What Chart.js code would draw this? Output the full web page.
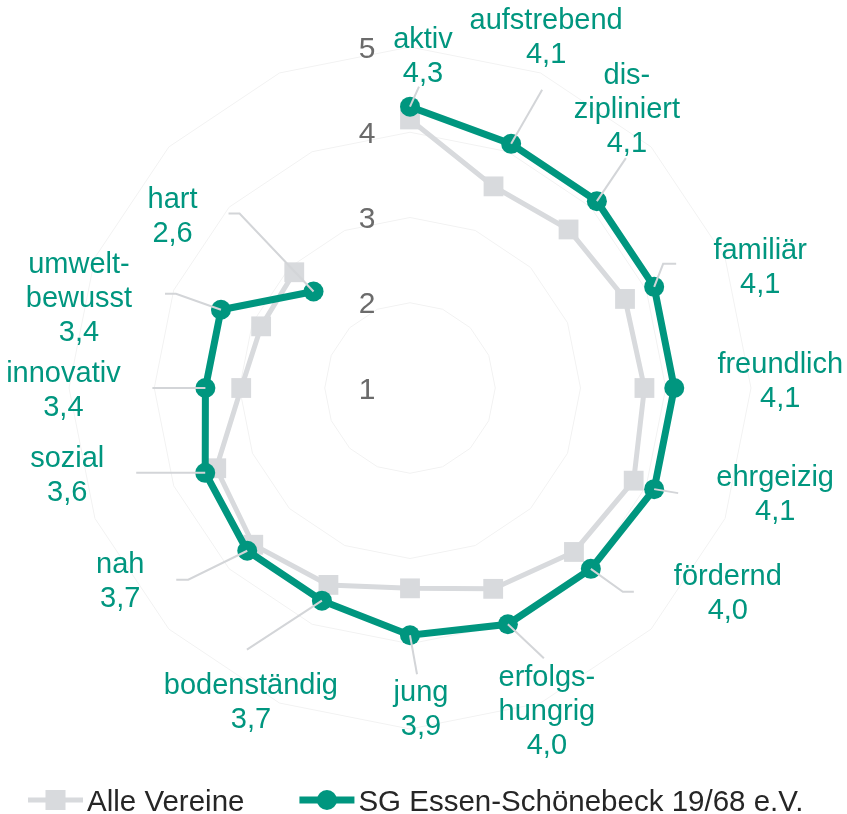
<!DOCTYPE html>
<html lang="de">
<head>
<meta charset="utf-8">
<title>Vereinsprofil</title>
<script src="https://cdn.jsdelivr.net/npm/chart.js@4.4.1/dist/chart.umd.min.js"></script>
<style>
  html, body { margin: 0; padding: 0; background: #fff; }
  #wrap { position: relative; width: 847px; height: 814px; }
</style>
</head>
<body>
<div id="wrap"><canvas id="profilChart" width="847" height="814"></canvas></div>
<script>
// Achsen des Profils (die letzte Achse bleibt leer, daher die Lücke oben links)
const kategorien = ['aktiv', 'aufstrebend', ['dis-', 'zipliniert'], 'familiär', 'freundlich', 'ehrgeizig',
  'fördernd', ['erfolgs-', 'hungrig'], 'jung', 'bodenständig', 'nah', 'sozial', 'innovativ',
  ['umwelt-', 'bewusst'], 'hart', ''];
const alleVereine = [4.15, 3.56, 3.63, 3.73, 3.75, 3.84, 3.72, 3.55, 3.35, 3.5, 3.6, 3.46, 2.98, 2.89, 2.92, null];
const sgEssen = [4.3, 4.1, 4.1, 4.1, 4.1, 4.1, 4.0, 4.0, 3.9, 3.7, 3.7, 3.6, 3.4, 3.4, 2.6, null];
const skalaWerte = [1, 2, 3, 4, 5];
const serienNamen = ['Alle Vereine', 'SG Essen-Schönebeck 19/68 e.V.'];

const FONT = "'Liberation Sans', Arial, sans-serif";
const GRUEN = '#00967f';
const GRAU = '#d8dadd';

// Lage der Wertbeschriftung (Mitte der letzten Zeile, Grundlinie) relativ zum Punkt
const labelVersatz = [[13, -25], [35, -81], [30, -49], [106, 6], [106, 19], [121, 31], [137, 50], [39, 130],
  [11, 100], [-71, 127], [-127, 56], [-138, 28], [-142, 28], [-142, 31], [-141, -50]];
// Führungslinien: Knickpunkt relativ zum Punkt, danach waagrechter Stummel
const fuehrung = [[9, -20, 0], [31, -54, 0], [29, -43, 0], [9, -23, 13], null, [24, 4, 0], [32, 23, 11],
  [36, 34, 0], [7, 39, 0], [-75, 49, 0], [-59, 29, -12], [-69, 0, 0], [-53, 0, 0], [-45, -16, -11], [-74, -78, -11]];

const profilDeko = {
  id: 'profilDeko',
  beforeDatasetsDraw(chart) {
    // Skalenbeschriftung links neben der senkrechten Achse
    const { ctx } = chart;
    const r = chart.scales.r;
    const size = 30;
    ctx.save();
    ctx.font = size + 'px ' + FONT;
    ctx.fillStyle = '#6b6b6b';
    ctx.textAlign = 'center';
    ctx.textBaseline = 'alphabetic';
    skalaWerte.forEach(v => {
      const y = r.yCenter - r.getDistanceFromCenterForValue(v);
      ctx.fillText(String(v), r.xCenter - 43, y + size * 0.716 / 2);
    });
    ctx.restore();
  },
  afterDatasetsDraw(chart) {
    const { ctx } = chart;
    const punkte = chart.getDatasetMeta(1).data;
    ctx.save();
    // Führungslinien
    ctx.strokeStyle = '#d3d5d8';
    ctx.lineWidth = 2;
    fuehrung.forEach((f, i) => {
      if (!f) return;
      const p = punkte[i];
      ctx.beginPath();
      ctx.moveTo(p.x, p.y);
      ctx.lineTo(p.x + f[0], p.y + f[1]);
      if (f[2]) ctx.lineTo(p.x + f[0] + f[2], p.y + f[1]);
      ctx.stroke();
    });
    // Kategorie und Wert
    const size = 29;
    const lh = 34;
    ctx.font = size + 'px ' + FONT;
    ctx.fillStyle = GRUEN;
    ctx.textAlign = 'center';
    ctx.textBaseline = 'alphabetic';
    sgEssen.forEach((v, i) => {
      if (v === null) return;
      const p = punkte[i];
      const zeilen = [].concat(kategorien[i], v.toFixed(1).replace('.', ','));
      const x = p.x + labelVersatz[i][0];
      const yLetzte = p.y + labelVersatz[i][1];
      zeilen.forEach((t, k) => {
        ctx.fillText(t, x, yLetzte - (zeilen.length - 1 - k) * lh);
      });
    });
    ctx.restore();
  },
  afterDraw(chart) {
    // Legende unten: Linie mit Marker, dann Name
    const { ctx } = chart;
    const size = 29.5;
    const yMitte = 800;
    let x = 28;
    ctx.save();
    ctx.font = size + 'px ' + FONT;
    ctx.textBaseline = 'alphabetic';
    ctx.textAlign = 'left';
    chart.data.datasets.forEach(ds => {
      const len = 55;
      ctx.strokeStyle = ds.borderColor;
      ctx.lineWidth = ds.borderWidth;
      ctx.beginPath();
      ctx.moveTo(x, yMitte);
      ctx.lineTo(x + len, yMitte);
      ctx.stroke();
      ctx.fillStyle = ds.pointBackgroundColor;
      if (ds.pointStyle === 'rect') {
        ctx.fillRect(x + len / 2 - 10, yMitte - 10, 20, 20);
      } else {
        ctx.beginPath();
        ctx.arc(x + len / 2, yMitte, 10, 0, Math.PI * 2);
        ctx.fill();
      }
      x += len + 4;
      ctx.fillStyle = '#262626';
      ctx.fillText(ds.label, x, yMitte + size * 0.716 / 2);
      x += ctx.measureText(ds.label).width + 55;
    });
    ctx.restore();
  }
};

document.addEventListener('DOMContentLoaded', function() {
  const canvas = document.getElementById('profilChart');

  new Chart(canvas, {
    type: 'radar',
    data: {
      labels: kategorien,
      datasets: [{
        label: serienNamen[0],
        data: alleVereine,
        borderColor: GRAU,
        backgroundColor: GRAU,
        borderWidth: 5,
        pointStyle: 'rect',
        pointRadius: 14,
        pointBackgroundColor: GRAU,
        pointBorderWidth: 0,
        fill: false,
        spanGaps: false,
        order: 1
      }, {
        label: serienNamen[1],
        data: sgEssen,
        borderColor: GRUEN,
        backgroundColor: GRUEN,
        borderWidth: 7,
        pointStyle: 'circle',
        pointRadius: 10,
        pointBackgroundColor: GRUEN,
        pointBorderWidth: 0,
        fill: false,
        spanGaps: false,
        order: 0
      }]
    },
    options: {
      responsive: false,
      animation: false,
      layout: { padding: { left: 69, right: 96, top: 47, bottom: 85 } },
      plugins: {
        legend: { display: false },
        tooltip: { enabled: false }
      },
      scales: {
        r: {
          min: 1,
          max: 5,
          ticks: { display: false, stepSize: 1 },
          pointLabels: { display: false },
          angleLines: { display: false },
          grid: { color: '#f2f2f2', lineWidth: 1 }
        }
      }
    },
    plugins: [profilDeko]
  });
});
</script>
</body>
</html>
